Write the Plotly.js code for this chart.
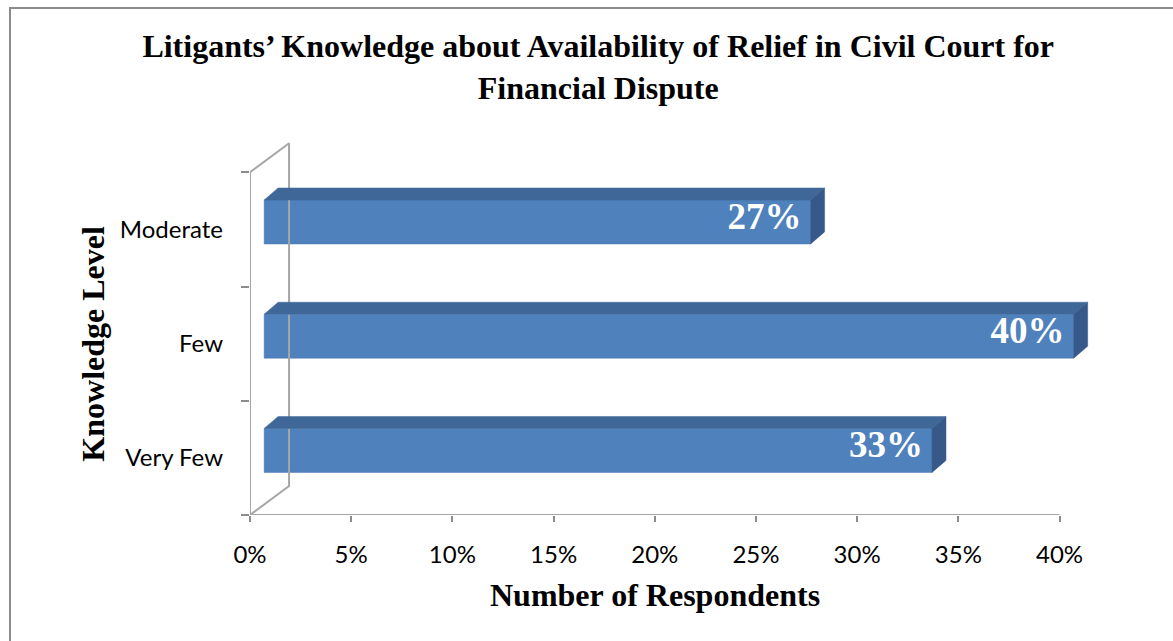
<!DOCTYPE html>
<html>
<head>
<meta charset="utf-8">
<script src="https://cdn.plot.ly/plotly-3.0.1.min.js"></script>
<style>
  html, body { margin: 0; padding: 0; background: #fff; overflow: hidden; }
  #chart { width: 1173px; height: 641px; position: relative; }
  #frame { position: absolute; left: 9px; top: 7px; width: 2000px; height: 2000px;
           border-left: 2px solid #8c8c8c; border-top: 2px solid #8c8c8c; pointer-events: none; }
</style>
</head>
<body>
<div id="chart"></div>
<div id="frame"></div>
<script>
// ---- data ----
var categories = ['Very Few', 'Few', 'Moderate'];
var values = [33, 40, 27];
var labels = ['33%', '40%', '27%'];
var xTickVals = [0, 5, 10, 15, 20, 25, 30, 35, 40];
var xTickText = ['0%', '5%', '10%', '15%', '20%', '25%', '30%', '35%', '40%'];

// ---- 3D geometry constants (data units) ----
var X0 = 0.7;          // bar front face start (depth offset from wall)
var DX = 0.69;         // bar depth in x
var DY = 0.105;        // bar depth in y
var BAR_W = 0.385;     // front face height
var BAR_SHIFT = 0.065; // front face centre shift from category
var WX = 1.93, WY = 0.254; // wall depth
var LABEL_PAD = 0.45;

var pos = categories.map(function (c, i) { return i; });

var topX = [], topY = [], sideX = [], sideY = [];
values.forEach(function (v, i) {
  var yb = pos[i] + BAR_SHIFT - BAR_W / 2;
  var yt = pos[i] + BAR_SHIFT + BAR_W / 2;
  var xe = X0 + v;
  topX.push(X0, xe, xe + DX, X0 + DX, X0, null);
  topY.push(yt, yt, yt + DY, yt + DY, yt, null);
  sideX.push(xe, xe, xe + DX, xe + DX, xe, null);
  sideY.push(yb, yt, yt + DY, yb + DY, yb, null);
});

var wall = {
  type: 'scatter', mode: 'lines', hoverinfo: 'skip', showlegend: false,
  x: [40, 0, 0, WX, WX, 0],
  y: [-0.5, -0.5, 2.5, 2.5 + WY, -0.5 + WY, -0.5],
  line: { color: '#a6a6a6', width: 2 }
};

var front = {
  type: 'bar', orientation: 'h', showlegend: false, hoverinfo: 'skip',
  x: values, y: pos, base: X0, width: BAR_W, offset: BAR_SHIFT - BAR_W / 2,
  marker: { color: '#4f81bd', line: { color: '#4a79b2', width: 0.5 } }
};

var tops = {
  type: 'scatter', mode: 'lines', fill: 'toself', hoverinfo: 'skip', showlegend: false,
  x: topX, y: topY, fillcolor: '#3f6898', line: { color: '#3f6898', width: 0.5 }
};
var sides = {
  type: 'scatter', mode: 'lines', fill: 'toself', hoverinfo: 'skip', showlegend: false,
  x: sideX, y: sideY, fillcolor: '#36598a', line: { color: '#36598a', width: 0.5 }
};

var text = {
  type: 'scatter', mode: 'text', hoverinfo: 'skip', showlegend: false, cliponaxis: false,
  x: values.map(function (v) { return X0 + v - LABEL_PAD; }),
  y: pos.map(function (p) { return p + BAR_SHIFT + 0.02; }),
  text: labels, textposition: 'middle left',
  textfont: { family: 'Liberation Serif, serif', size: 37, color: '#ffffff', weight: 'bold' }
};

var layout = {
  width: 1173, height: 641,
  margin: { l: 250, r: 73, t: 138, b: 126 },
  paper_bgcolor: '#ffffff', plot_bgcolor: 'rgba(0,0,0,0)',
  title: {
    text: '<b>Litigants’ Knowledge about Availability of Relief in Civil Court for<br>Financial Dispute</b>',
    font: { family: 'Liberation Serif, serif', size: 32, color: '#000' },
    x: 0.51, xref: 'container', xanchor: 'center',
    y: 1 - 57 / 641, yref: 'container', yanchor: 'middle'
  },
  xaxis: {
    range: [0, 42], showgrid: false, zeroline: false, showline: false,
    tickmode: 'array', tickvals: xTickVals, ticktext: xTickText,
    ticks: 'outside', ticklen: 6, tickwidth: 2, tickcolor: '#8c8c8c',
    ticklabelstandoff: 12,
    tickfont: { family: 'Lato, sans-serif', size: 24, color: '#000' }
  },
  yaxis: {
    range: [-0.5, 2.8], showgrid: false, zeroline: false, showline: false,
    tickmode: 'array', tickvals: pos, ticktext: categories, ticks: '',
    ticklabelstandoff: 26,
    tickfont: { family: 'Lato, sans-serif', size: 24, color: '#000' },
    minor: { tickmode: 'array', tickvals: [-0.5, 0.5, 1.5, 2.5], ticks: 'outside', ticklen: 8, tickwidth: 2, tickcolor: '#8c8c8c', showgrid: false }
  },
  annotations: [
    { text: '<b>Number of Respondents</b>', xref: 'x', x: 20, yref: 'paper', y: 0,
      xanchor: 'center', yanchor: 'middle', yshift: -80, showarrow: false,
      font: { family: 'Liberation Serif, serif', size: 32, color: '#000' } },
    { text: '<b>Knowledge Level</b>', xref: 'paper', x: 0, yref: 'y', y: 1,
      xanchor: 'center', yanchor: 'middle', xshift: -157, textangle: -90, showarrow: false,
      font: { family: 'Liberation Serif, serif', size: 32, color: '#000' } }
  ]
};

Plotly.newPlot('chart', [wall, front, tops, sides, text], layout, { displayModeBar: false, staticPlot: true });
</script>
</body>
</html>
